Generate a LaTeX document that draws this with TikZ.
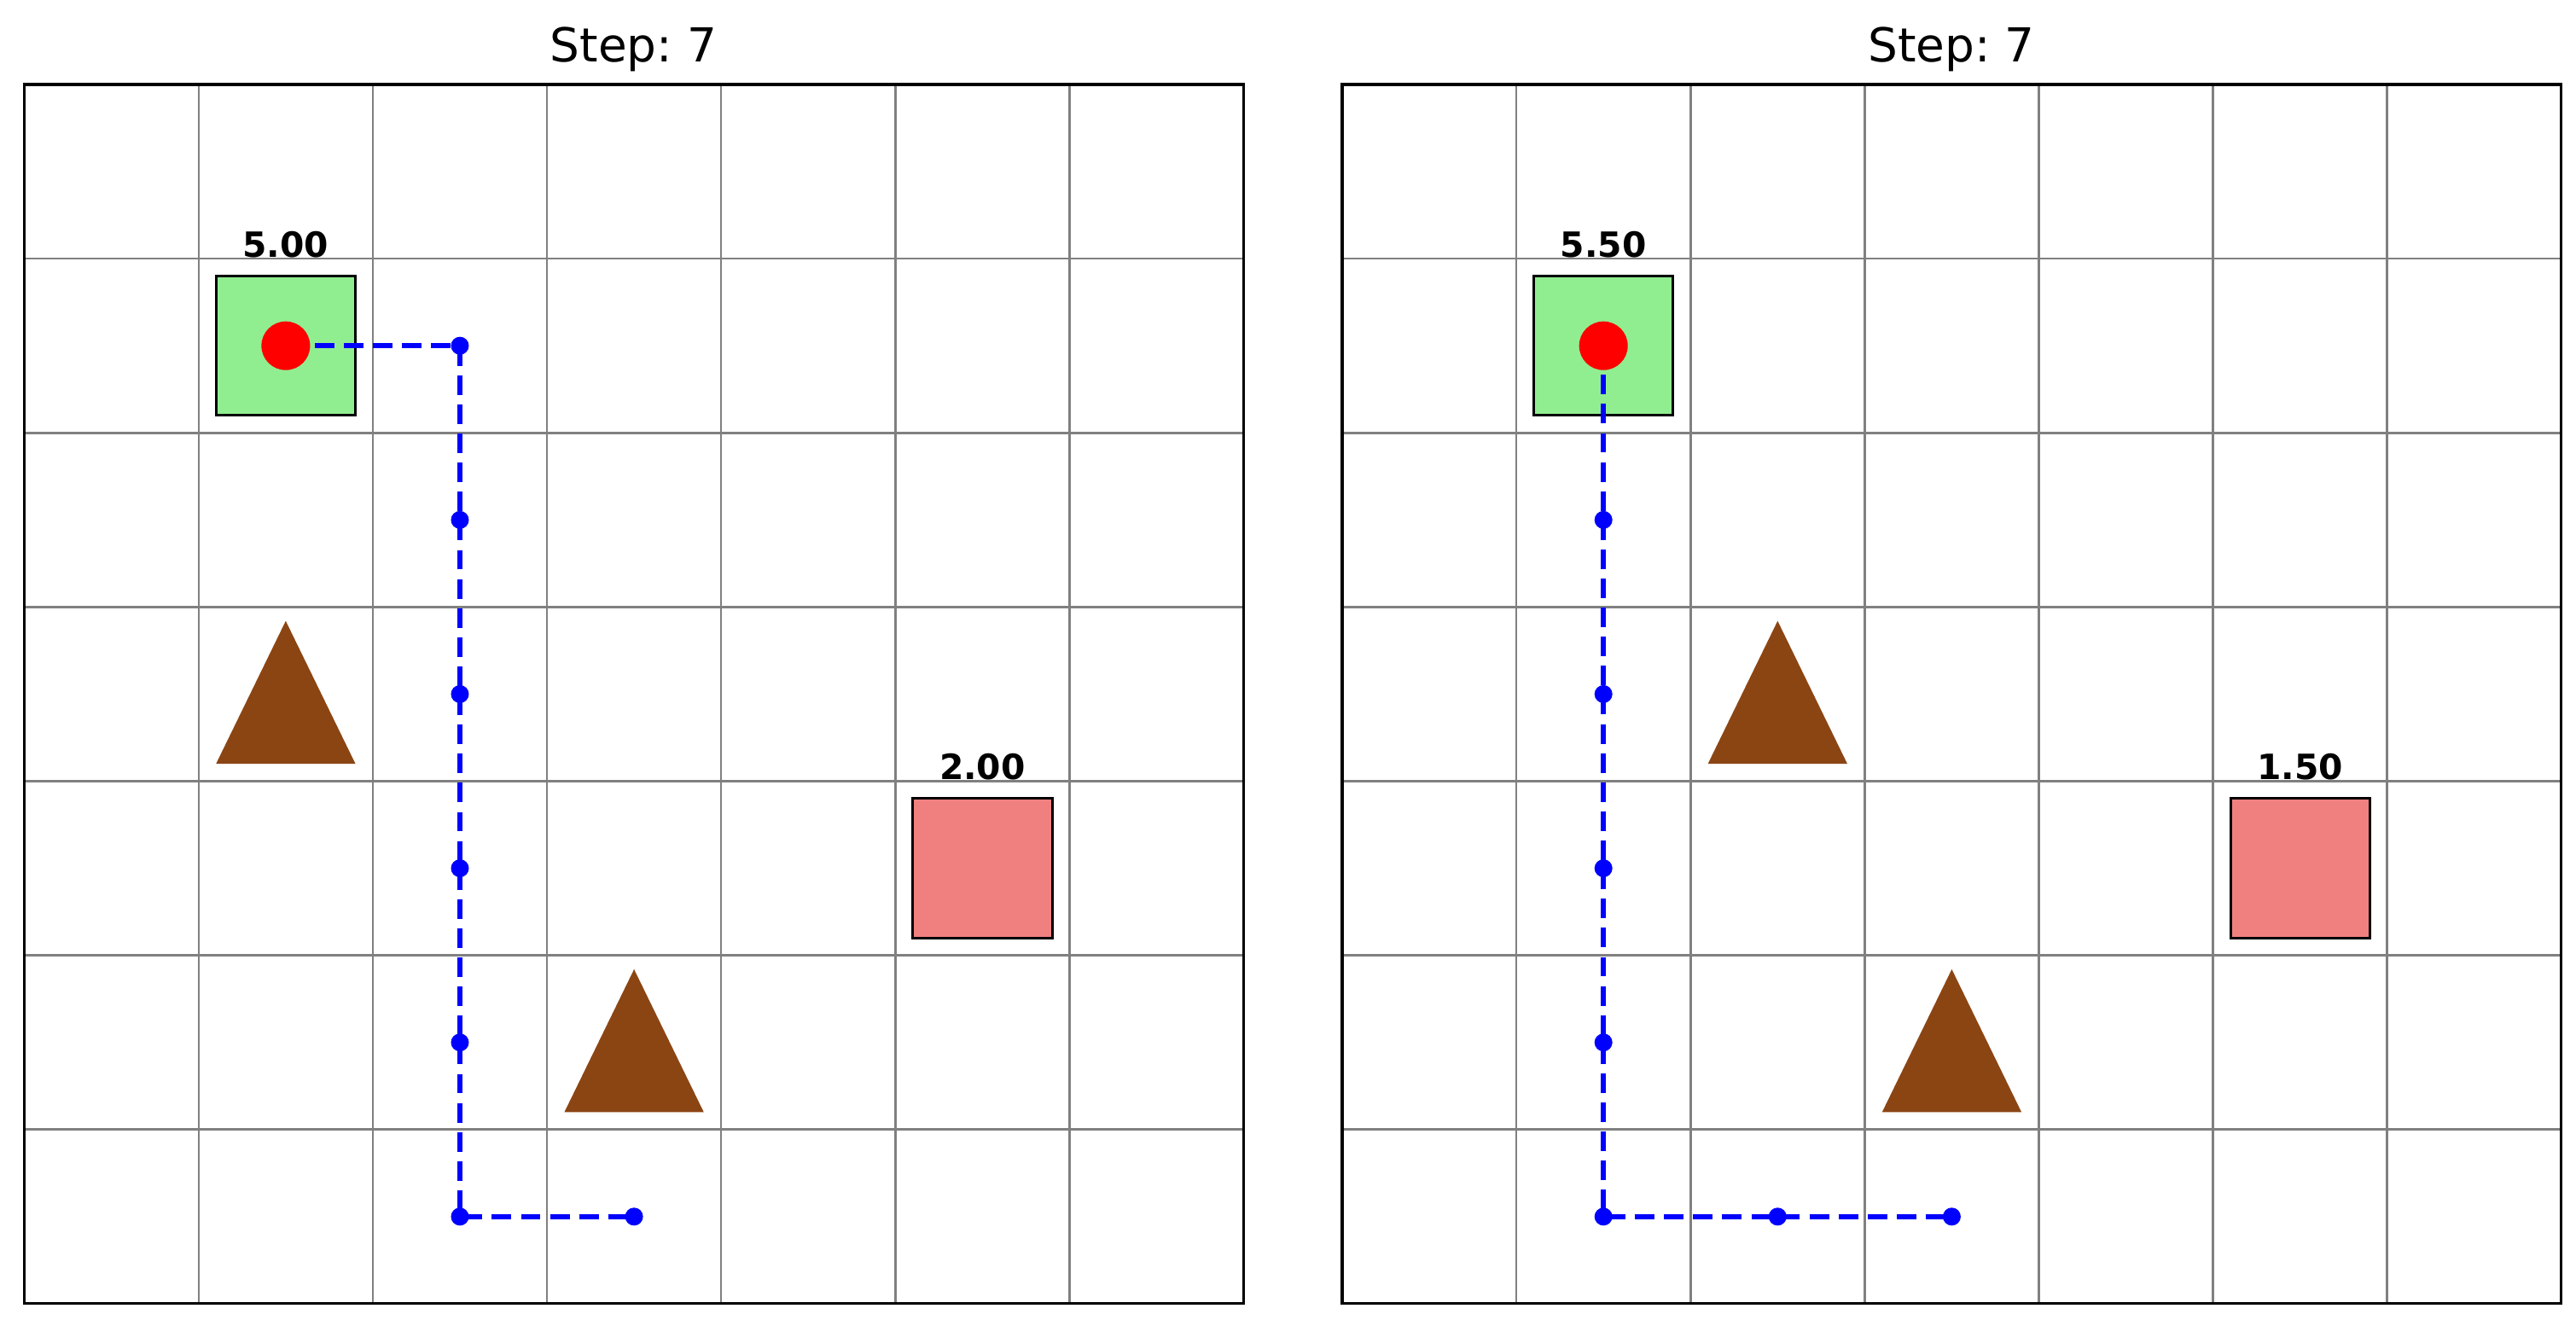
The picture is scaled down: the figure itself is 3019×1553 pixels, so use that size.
\documentclass[tikz,border=0pt]{standalone}
\usepackage{fontspec}
\setmainfont{DejaVu Sans}
\frenchspacing
\definecolor{lightgreen}{HTML}{90EE90}
\definecolor{lightcoral}{HTML}{F08080}
\definecolor{saddlebrown}{HTML}{8B4513}
\definecolor{gridgray}{HTML}{808080}
\tikzset{
  gridline/.style={draw=gridgray, line width=0.72pt},
  border/.style={draw=black, line width=0.9pt},
  goalbox/.style={rectangle, draw=black, line width=0.85pt, fill=lightgreen, minimum size=1.632cm, inner sep=0pt},
  hazardbox/.style={rectangle, draw=black, line width=0.85pt, fill=lightcoral, minimum size=1.632cm, inner sep=0pt},
  vallabel/.style={anchor=base, inner sep=0pt, font=\fontsize{11.6}{13}\selectfont\bfseries},
  titlelabel/.style={anchor=base, inner sep=0pt, font=\fontsize{15.6}{18}\selectfont},
  obstacle/.style={fill=saddlebrown},
  trail/.style={draw=blue, line width=1.76pt, dash pattern=on 6.5pt off 3.2pt},
  trailpt/.style={circle, fill=blue, inner sep=0pt, minimum size=0.21cm},
  agent/.style={circle, fill=red, inner sep=0pt, minimum size=0.57cm}
}
\begin{document}
\begin{tikzpicture}[x=0.01cm,y=-0.01cm]
\useasboundingbox[fill=white] (0,0) rectangle (3019,1553);

% titles
\node[titlelabel] (Ltitle) at (742.7,72) {Step: 7};
\node[titlelabel] (Rtitle) at (2287,72) {Step: 7};

% ---------------- left grid ----------------
\begin{scope}[shift={(28.7,99)}, x=2.04cm, y=-2.04cm]
  \foreach \i in {1,...,6} {
    \draw[gridline] (\i,0) -- (\i,7);
    \draw[gridline] (0,\i) -- (7,\i);
  }
  \draw[border] (0,0) rectangle (7,7);
  \node[goalbox] (Lgoal) at (1.5,1.5) {};
  \node[vallabel] (Lgoalval) at (1.5,0.99) {5.00};
  \node[hazardbox] (Lhaz) at (5.5,4.5) {};
  \node[vallabel] (Lhazval) at (5.5,3.99) {2.00};
  \fill[obstacle] (1.1,3.9) -- (1.9,3.9) -- (1.5,3.08) -- cycle;
  \fill[obstacle] (3.1,5.9) -- (3.9,5.9) -- (3.5,5.08) -- cycle;
  \coordinate (Lp0) at (1.5,1.5);
  \node[trailpt] (Lp1) at (2.5,1.5) {};
  \node[trailpt] (Lp2) at (2.5,2.5) {};
  \node[trailpt] (Lp3) at (2.5,3.5) {};
  \node[trailpt] (Lp4) at (2.5,4.5) {};
  \node[trailpt] (Lp5) at (2.5,5.5) {};
  \node[trailpt] (Lp6) at (2.5,6.5) {};
  \node[trailpt] (Lp7) at (3.5,6.5) {};
  \draw[trail] (Lp0) -- (Lp1.center) -- (Lp2.center) -- (Lp3.center) -- (Lp4.center) -- (Lp5.center) -- (Lp6.center) -- (Lp7.center);
  \node[agent] (Lagent) at (Lp0) {};
\end{scope}

% ---------------- right grid ----------------
\begin{scope}[shift={(1573,99)}, x=2.04cm, y=-2.04cm]
  \foreach \i in {1,...,6} {
    \draw[gridline] (\i,0) -- (\i,7);
    \draw[gridline] (0,\i) -- (7,\i);
  }
  \draw[border] (0,0) rectangle (7,7);
  \node[goalbox] (Rgoal) at (1.5,1.5) {};
  \node[vallabel] (Rgoalval) at (1.5,0.99) {5.50};
  \node[hazardbox] (Rhaz) at (5.5,4.5) {};
  \node[vallabel] (Rhazval) at (5.5,3.99) {1.50};
  \fill[obstacle] (2.1,3.9) -- (2.9,3.9) -- (2.5,3.08) -- cycle;
  \fill[obstacle] (3.1,5.9) -- (3.9,5.9) -- (3.5,5.08) -- cycle;
  \coordinate (Rp0) at (1.5,1.5);
  \node[trailpt] (Rp1) at (1.5,2.5) {};
  \node[trailpt] (Rp2) at (1.5,3.5) {};
  \node[trailpt] (Rp3) at (1.5,4.5) {};
  \node[trailpt] (Rp4) at (1.5,5.5) {};
  \node[trailpt] (Rp5) at (1.5,6.5) {};
  \node[trailpt] (Rp6) at (2.5,6.5) {};
  \node[trailpt] (Rp7) at (3.5,6.5) {};
  \draw[trail] (Rp0) -- (Rp1.center) -- (Rp2.center) -- (Rp3.center) -- (Rp4.center) -- (Rp5.center) -- (Rp6.center) -- (Rp7.center);
  \node[agent] (Ragent) at (Rp0) {};
\end{scope}
\end{tikzpicture}
\end{document}
